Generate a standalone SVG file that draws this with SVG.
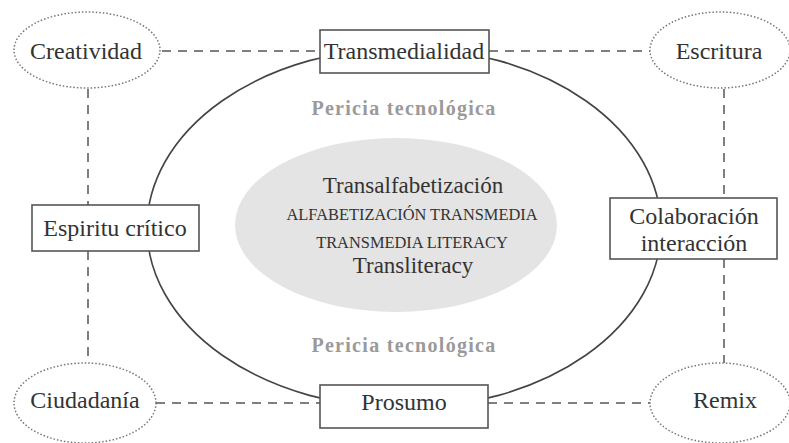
<svg xmlns="http://www.w3.org/2000/svg" width="789" height="443" viewBox="0 0 789 443">
<style>
text{font-family:"Liberation Serif","Times New Roman",serif;fill:#333;text-anchor:middle}
.n{font-size:24px}
.c{font-size:23px}
.box{fill:#fff;stroke:#555;stroke-width:1.6}
.dot{fill:#fff;stroke:#777;stroke-width:1.5;stroke-dasharray:1.5 2}
.dash{stroke:#555;stroke-width:1.5;stroke-dasharray:9 7;fill:none}
.per{font-size:20px;font-weight:bold;fill:#9a9a9a;letter-spacing:1.3px}
.cap{font-size:16.4px}
</style>
<rect width="789" height="443" fill="#fff"/>
<g id="connectors">
<line class="dash" x1="162" y1="51" x2="320" y2="51"/>
<line class="dash" x1="489" y1="51" x2="650" y2="51"/>
<line class="dash" x1="88" y1="89" x2="88" y2="205"/>
<line class="dash" x1="88" y1="251" x2="88" y2="363"/>
<line class="dash" x1="724" y1="89" x2="724" y2="198"/>
<line class="dash" x1="724" y1="259" x2="724" y2="363"/>
<line class="dash" x1="156" y1="403" x2="320" y2="403"/>
<line class="dash" x1="488" y1="403" x2="650" y2="403"/>
</g>
<g id="ring">
<ellipse cx="404" cy="228" rx="257" ry="180" fill="none" stroke="#444" stroke-width="1.6"/>
</g>
<g id="core">
<ellipse cx="396" cy="225" rx="161" ry="87" fill="#e4e4e4"/>
<text class="c" x="413" y="193">Transalfabetización</text>
<text class="cap" x="412" y="220">ALFABETIZACIÓN TRANSMEDIA</text>
<text class="cap" x="412" y="248">TRANSMEDIA LITERACY</text>
<text class="c" x="413" y="273">Transliteracy</text>
</g>
<g id="pericia-top"><text class="per" x="404" y="115">Pericia tecnológica</text></g>
<g id="pericia-bottom"><text class="per" x="404" y="352">Pericia tecnológica</text></g>
<g id="creatividad">
<ellipse class="dot" cx="87" cy="50" rx="73" ry="38"/>
<text class="n" x="86" y="59">Creatividad</text>
</g>
<g id="transmedialidad">
<rect class="box" x="320" y="30" width="169" height="43"/>
<text class="n" x="404" y="59">Transmedialidad</text>
</g>
<g id="escritura">
<ellipse class="dot" cx="720" cy="50" rx="70" ry="38"/>
<text class="n" x="719" y="59">Escritura</text>
</g>
<g id="espiritu">
<rect class="box" x="32" y="205" width="167" height="46"/>
<text class="n" x="115" y="236">Espiritu crítico</text>
</g>
<g id="colaboracion">
<rect class="box" x="610" y="198" width="167" height="61"/>
<text class="n" x="694" y="224">Colaboración</text>
<text class="n" x="694" y="251">interacción</text>
</g>
<g id="ciudadania">
<ellipse class="dot" cx="85" cy="403" rx="71" ry="40"/>
<text class="n" x="85" y="408">Ciudadanía</text>
</g>
<g id="prosumo">
<rect class="box" x="320" y="385" width="168" height="43"/>
<text class="n" x="404" y="410">Prosumo</text>
</g>
<g id="remix">
<ellipse class="dot" cx="720" cy="403" rx="70" ry="40"/>
<text class="n" x="725" y="408">Remix</text>
</g>
</svg>
